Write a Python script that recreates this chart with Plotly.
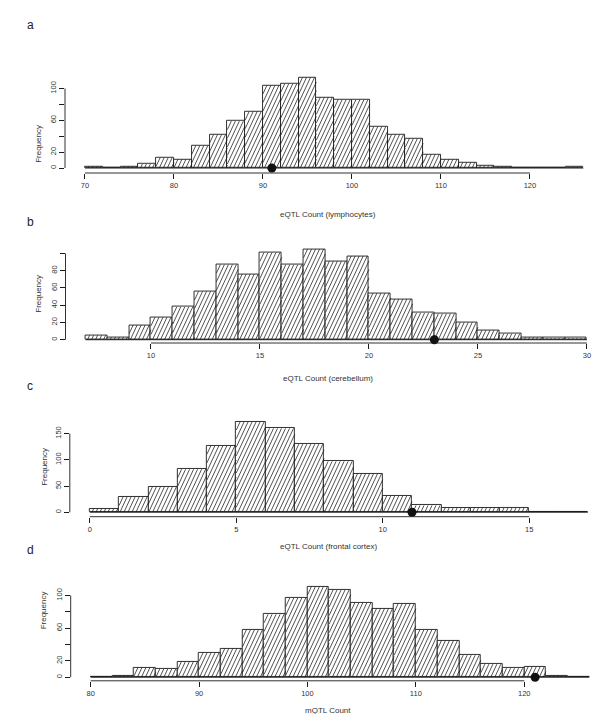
import math
import plotly.graph_objects as go

# ---------------- data ----------------
a_bin_start, a_bin_width = 70, 2
a_counts = [2, 0, 2, 5, 13, 11, 28, 42, 59, 71, 104, 106, 114, 89, 86, 86, 52, 42, 37,
            17, 11, 7, 3, 2, 0, 0, 0, 1]
a_observed = 91
a_xticks = [70, 80, 90, 100, 110, 120]
a_yticks = [0, 20, 40, 60, 80, 100]
a_yticklabels = ["0", "20", "", "60", "", "100"]
a_xlabel = "eQTL Count (lymphocytes)"

b_bin_start, b_bin_width = 7, 1
b_counts = [5, 3, 17, 26, 38, 56, 87, 76, 101, 87, 105, 91, 97, 54, 47, 31, 30, 20, 11,
            7, 3, 2, 2]
b_observed = 23
b_xticks = [10, 15, 20, 25, 30]
b_yticks = [0, 20, 40, 60, 80, 100]
b_yticklabels = ["0", "20", "40", "60", "80", ""]
b_xlabel = "eQTL Count (cerebellum)"

c_bin_start, c_bin_width = 0, 1
c_counts = [7, 29, 48, 82, 127, 173, 160, 130, 97, 73, 31, 13, 9, 9, 8, 0, 0]
c_observed = 11
c_xticks = [0, 5, 10, 15]
c_yticks = [0, 50, 100, 150]
c_yticklabels = ["0", "50", "100", "150"]
c_xlabel = "eQTL Count (frontal cortex)"

d_bin_start, d_bin_width = 80, 2
d_counts = [1, 2, 12, 10, 19, 30, 35, 58, 77, 97, 111, 107, 91, 84, 90, 58, 45, 27, 16,
            11, 13, 2, 1]
d_observed = 121
d_xticks = [80, 90, 100, 110, 120]
d_yticks = [0, 20, 40, 60, 80, 100]
d_yticklabels = ["0", "20", "", "60", "", "100"]
d_xlabel = "mQTL Count"

letters = ["a", "b", "c", "d"]

# ---------------- layout geometry (pixels) ----------------
W, H = 601, 714
geom = [
    dict(left=57.0, kx=8.9, y0=160.0, yax=165.0, ky=0.795, ly=8, ty=200, fx=24),
    dict(left=57.5, kx=21.8, y0=331.7, yax=335.0, ky=0.8625, ly=205, ty=370, fx=24),
    dict(left=61.8, kx=29.3, y0=504.2, yax=508.7, ky=0.524, ly=378, ty=545, fx=30),
    dict(left=62.7, kx=10.84, y0=669.2, yax=672.8, ky=0.817, ly=551, ty=709, fx=29),
]
HATCH_ANGLE = 65.0   # degrees, on screen
HATCH_STEP = 4.0     # horizontal px between hatch lines

panels = [
    (a_bin_start, a_bin_width, a_counts, a_observed, a_xticks, a_yticks, a_yticklabels, a_xlabel),
    (b_bin_start, b_bin_width, b_counts, b_observed, b_xticks, b_yticks, b_yticklabels, b_xlabel),
    (c_bin_start, c_bin_width, c_counts, c_observed, c_xticks, c_yticks, c_yticklabels, c_xlabel),
    (d_bin_start, d_bin_width, d_counts, d_observed, d_xticks, d_yticks, d_yticklabels, d_xlabel),
]

INK = "#1a1a1a"
TXT = "#333333"
FONT = "Liberation Sans"


def hatch_segments(edges, counts, kx, ky):
    """Diagonal shading lines clipped to each bar, in data coordinates."""
    r = (ky / kx) / math.tan(math.radians(HATCH_ANGLE))  # data-x per data-y
    step = HATCH_STEP / kx
    xs, ys = [], []
    for k, cnt in enumerate(counts):
        if cnt <= 0:
            continue
        x0, x1 = edges[k], edges[k + 1]
        c = x0 - r * cnt
        while c < x1:
            lo = max(0.0, (x0 - c) / r)
            hi = min(float(cnt), (x1 - c) / r)
            if hi > lo:
                xs += [c + r * lo, c + r * hi, None]
                ys += [lo, hi, None]
            c += step
    return xs, ys


fig = go.Figure()
layout = dict(width=W, height=H, margin=dict(l=0, r=0, t=0, b=0),
              paper_bgcolor="white", plot_bgcolor="white", showlegend=False,
              bargap=0, font=dict(family=FONT, color=TXT))
shapes, annotations = [], []

for i, ((start, bw, counts, obs, xt, yt, ytl, xlab), g) in enumerate(zip(panels, geom)):
    n = i + 1
    xa = "x" if n == 1 else f"x{n}"
    ya = "y" if n == 1 else f"y{n}"
    edges = [start + bw * k for k in range(len(counts) + 1)]
    centers = [(edges[k] + edges[k + 1]) / 2 for k in range(len(counts))]
    span = edges[-1] - edges[0]
    xmin = edges[0] - 0.04 * span
    right = min(W, g["left"] + 1.08 * span * g["kx"])
    xmax = xmin + (right - g["left"]) / g["kx"]
    M = max(counts)
    top = g["y0"] - 1.04 * M * g["ky"]
    ymin = -(g["yax"] - g["y0"]) / g["ky"]
    ymax = (g["y0"] - top) / g["ky"]
    xdom = [g["left"] / W, right / W]
    ydom = [1 - g["yax"] / H, 1 - top / H]

    fig.add_trace(go.Bar(
        x=centers, y=counts, width=bw, xaxis=xa, yaxis=ya,
        marker=dict(color="white", line=dict(color=INK, width=0.9)),
        hoverinfo="skip"))
    hx, hy = hatch_segments(edges, counts, g["kx"], g["ky"])
    fig.add_trace(go.Scatter(x=hx, y=hy, mode="lines", xaxis=xa, yaxis=ya,
                             line=dict(color=INK, width=0.75), hoverinfo="skip",
                             connectgaps=False))
    fig.add_trace(go.Scatter(x=[edges[0], edges[-1]], y=[0, 0], mode="lines",
                             line=dict(color=INK, width=1), xaxis=xa, yaxis=ya,
                             hoverinfo="skip"))
    fig.add_trace(go.Scatter(x=[obs], y=[0], mode="markers", xaxis=xa, yaxis=ya,
                             marker=dict(size=9, color="#111111"), cliponaxis=False,
                             hoverinfo="skip"))

    axis_common = dict(showgrid=False, zeroline=False, showline=False, ticks="outside",
                       ticklen=5, tickwidth=0.9, tickcolor=INK, automargin=False,
                       tickfont=dict(size=7.5, color=TXT, family=FONT))
    layout["xaxis" if n == 1 else f"xaxis{n}"] = dict(
        axis_common, domain=xdom, range=[xmin, xmax], anchor=ya,
        tickmode="array", tickvals=xt, ticktext=[str(v) for v in xt])
    layout["yaxis" if n == 1 else f"yaxis{n}"] = dict(
        axis_common, domain=ydom, range=[ymin, ymax], anchor=xa,
        tickmode="array", tickvals=yt, ticktext=ytl, tickangle=-90)

    shapes.append(dict(type="line", xref=xa, yref="paper", x0=xt[0], x1=xt[-1],
                       y0=ydom[0], y1=ydom[0], line=dict(color=INK, width=0.9)))
    shapes.append(dict(type="line", xref="paper", yref=ya, x0=xdom[0], x1=xdom[0],
                       y0=yt[0], y1=yt[-1], line=dict(color=INK, width=0.9)))

    annotations.append(dict(text=letters[i], xref="paper", yref="paper",
                            x=17 / W, y=1 - g["ly"] / H, showarrow=False,
                            font=dict(size=12, color="#222", family=FONT)))
    annotations.append(dict(text=xlab, xref="paper", yref="paper",
                            x=320 / W, y=1 - g["ty"] / H, showarrow=False,
                            font=dict(size=8, color=TXT, family=FONT)))
    annotations.append(dict(text="Frequency", xref="paper", yref="paper",
                            x=g["fx"] / W, y=(ydom[0] + ydom[1]) / 2, showarrow=False,
                            textangle=-90, font=dict(size=8, color=TXT, family=FONT)))

layout["shapes"] = shapes
layout["annotations"] = annotations
fig.update_layout(**layout)
fig.write_html("out.html")
